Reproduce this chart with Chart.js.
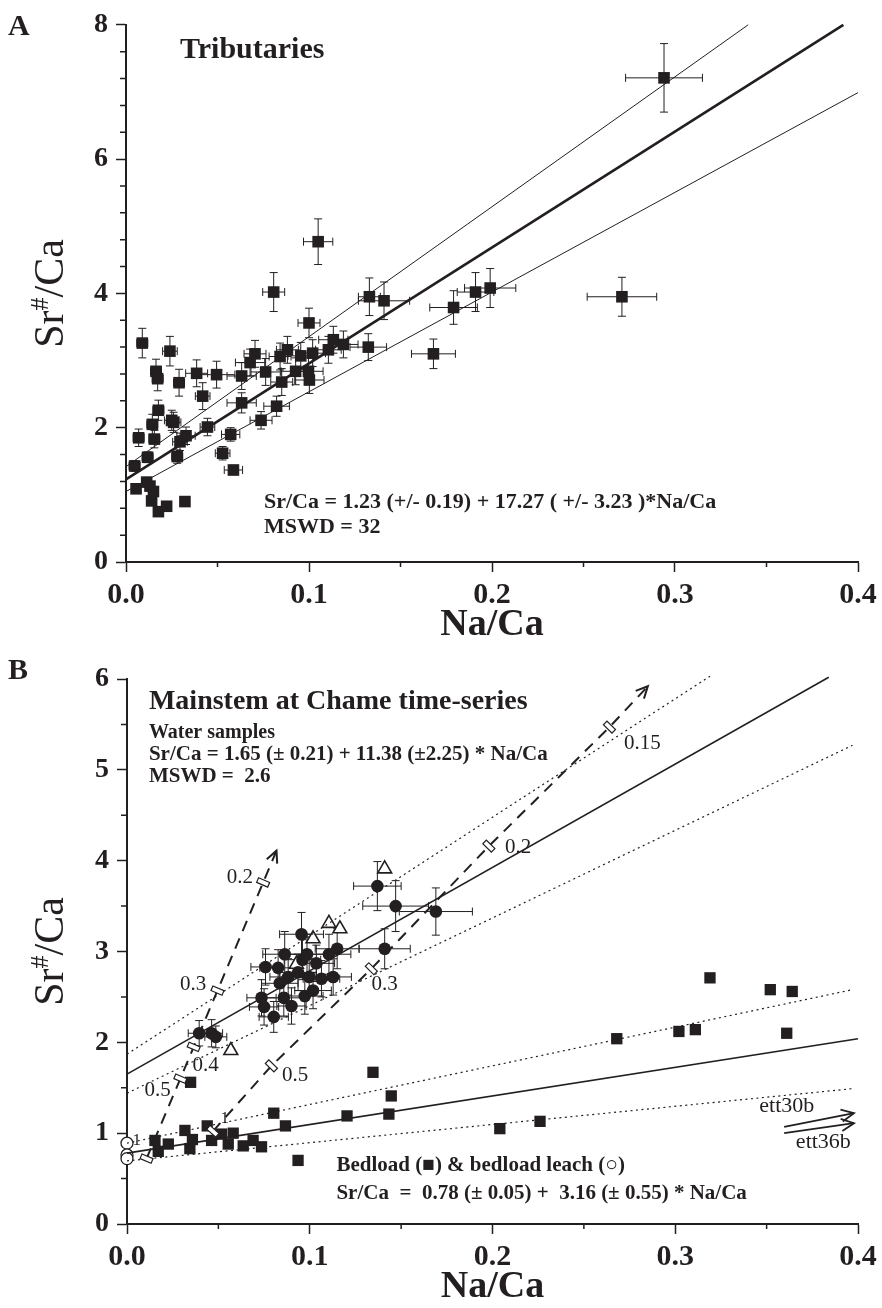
<!DOCTYPE html>
<html>
<head>
<meta charset="utf-8">
<script src="https://cdn.jsdelivr.net/npm/chart.js@4.4.1/dist/chart.umd.min.js"></script>
<style>
  html, body { margin: 0; padding: 0; background: #fff; }
  #wrap { position: relative; width: 882px; height: 1308px; }
  .panel { position: absolute; left: 0; width: 882px; }
  #boxA { top: 0; height: 650px; }
  #boxB { top: 650px; height: 658px; }
  .tag { position: absolute; left: 8px; font: bold 30px "Liberation Serif", serif; line-height: 30px; color: #231f20; }
</style>
</head>
<body>
<div id="wrap">
  <div class="panel" id="boxA"><canvas id="chartA"></canvas></div>
  <div class="panel" id="boxB"><canvas id="chartB"></canvas></div>
  <div class="tag" style="top:10px">A</div>
  <div class="tag" style="top:654px">B</div>
</div>
<script>
// ---- Panel A: tributaries (Na/Ca vs Sr/Ca, with 2-sigma bars) ----
const tribX = [0.0089, 0.024, 0.0164, 0.0173, 0.029, 0.0386, 0.0495, 0.0419, 0.0177, 0.0144, 0.025, 0.026, 0.0069, 0.0155, 0.0295, 0.0328, 0.0047, 0.0118, 0.028, 0.0445, 0.0632, 0.0678, 0.0705, 0.0763, 0.0632, 0.0572, 0.0528, 0.0587, 0.0738, 0.0823, 0.0851, 0.0842, 0.0882, 0.0927, 0.0955, 0.1, 0.0997, 0.1002, 0.102, 0.1106, 0.1133, 0.1188, 0.1324, 0.141, 0.133, 0.105, 0.0807, 0.168, 0.179, 0.191, 0.199, 0.271, 0.294];
const tribY = [3.26, 3.14, 2.84, 2.73, 2.67, 2.81, 2.79, 2.47, 2.26, 2.05, 2.11, 2.08, 1.85, 1.83, 1.79, 1.88, 1.43, 1.56, 1.57, 2.01, 2.37, 2.97, 3.10, 2.83, 2.77, 1.90, 1.62, 1.37, 2.11, 2.32, 2.68, 3.06, 3.16, 2.84, 3.07, 3.56, 2.84, 2.71, 3.11, 3.16, 3.31, 3.24, 3.20, 3.89, 3.95, 4.77, 4.02, 3.10, 3.79, 4.02, 4.08, 3.95, 7.21];
const tribXErr = [0.003, 0.004, 0.003, 0.003, 0.003, 0.006, 0.01, 0.004, 0.003, 0.003, 0.004, 0.004, 0.003, 0.003, 0.004, 0.005, 0.003, 0.003, 0.003, 0.004, 0.008, 0.008, 0.006, 0.008, 0.008, 0.005, 0.004, 0.005, 0.006, 0.007, 0.006, 0.006, 0.006, 0.008, 0.007, 0.006, 0.008, 0.008, 0.007, 0.007, 0.008, 0.008, 0.01, 0.014, 0.006, 0.008, 0.006, 0.012, 0.013, 0.010, 0.014, 0.019, 0.021];
const tribYErr = [0.22, 0.22, 0.18, 0.18, 0.2, 0.2, 0.2, 0.2, 0.15, 0.15, 0.15, 0.15, 0.13, 0.13, 0.13, 0.13, 0.08, 0.08, 0.1, 0.13, 0.15, 0.2, 0.2, 0.2, 0.2, 0.1, 0.1, 0.07, 0.13, 0.15, 0.2, 0.2, 0.2, 0.2, 0.2, 0.22, 0.2, 0.2, 0.2, 0.2, 0.2, 0.2, 0.2, 0.28, 0.28, 0.34, 0.29, 0.22, 0.25, 0.29, 0.29, 0.29, 0.51];
// low-Sr tributaries drawn without bars
const tribLowX = [0.0055, 0.0113, 0.0131, 0.014, 0.0177, 0.0222, 0.0322, 0.015];
const tribLowY = [1.09, 1.19, 1.13, 0.91, 0.75, 0.83, 0.90, 1.05];
// regression and its envelope
const tribFitX = [0, 0.392];
const tribFitY = [1.23, 8.0];
const tribUpX = [0, 0.34];
const tribUpY = [1.42, 8.0];
const tribLoX = [0, 0.4];
const tribLoY = [1.05, 6.99];

// ---- Panel B: mainstem at Chame ----
const waterX = [0.0395, 0.0463, 0.0486, 0.0758, 0.0736, 0.075, 0.0803, 0.0827, 0.0863, 0.0836, 0.0858, 0.0882, 0.09, 0.0955, 0.0936, 0.096, 0.0985, 0.0973, 0.0997, 0.1018, 0.1036, 0.1064, 0.1105, 0.1128, 0.115, 0.137, 0.147, 0.141, 0.169];
const waterY = [2.10, 2.10, 2.06, 2.83, 2.49, 2.39, 2.28, 2.82, 2.97, 2.65, 2.49, 2.72, 2.40, 3.19, 2.77, 2.91, 2.97, 2.51, 2.72, 2.57, 2.87, 2.70, 2.97, 2.72, 3.03, 3.72, 3.50, 3.03, 3.44];
const waterXErr = [0.006, 0.006, 0.006, 0.008, 0.008, 0.008, 0.008, 0.01, 0.012, 0.01, 0.01, 0.01, 0.008, 0.012, 0.01, 0.01, 0.01, 0.01, 0.01, 0.01, 0.01, 0.01, 0.012, 0.01, 0.012, 0.013, 0.018, 0.014, 0.02];
const waterYErr = [0.14, 0.15, 0.12, 0.2, 0.2, 0.2, 0.17, 0.2, 0.25, 0.2, 0.2, 0.2, 0.2, 0.24, 0.2, 0.22, 0.22, 0.2, 0.2, 0.2, 0.2, 0.2, 0.22, 0.2, 0.22, 0.27, 0.28, 0.22, 0.26];
const triX = [0.141, 0.1105, 0.1165, 0.1018, 0.0927, 0.0568];
const triY = [3.91, 3.31, 3.25, 3.14, 2.86, 1.91];
const bedX = [0.0348, 0.1346, 0.1446, 0.0803, 0.0867, 0.1204, 0.1433, 0.0936, 0.0153, 0.0226, 0.0171, 0.0317, 0.0344, 0.0358, 0.0439, 0.0463, 0.0517, 0.0581, 0.0554, 0.0636, 0.069, 0.0736, 0.204, 0.226, 0.268, 0.302, 0.311, 0.319, 0.352, 0.364, 0.361];
const bedY = [1.56, 1.67, 1.41, 1.22, 1.08, 1.19, 1.21, 0.70, 0.92, 0.88, 0.80, 1.03, 0.83, 0.93, 1.08, 0.92, 0.99, 1.00, 0.88, 0.86, 0.92, 0.85, 1.05, 1.13, 2.04, 2.12, 2.14, 2.71, 2.58, 2.56, 2.10];
const leachX = [0, 0, 0];
const leachY = [0.89, 0.76, 0.72];
const waterFitX = [0, 0.384];
const waterFitY = [1.65, 6.02];
const waterUpX = [0, 0.319];
const waterUpY = [1.87, 6.03];
const waterLoX = [0, 0.397];
const waterLoY = [1.44, 5.27];
const bedFitX = [0, 0.4];
const bedFitY = [0.78, 2.04];
const bedUpX = [0, 0.397];
const bedUpY = [0.89, 2.58];
const bedLoX = [0, 0.397];
const bedLoY = [0.695, 1.49];
// mixing curves, marked at fractions 1, 0.5, 0.4, 0.3, 0.2 ...
const mixAX = [0.0107, 0.0292, 0.0365, 0.0495, 0.0745, 0.0818];
const mixAY = [0.72, 1.60, 1.95, 2.57, 3.76, 4.11];
const mixALabels = ['1', '0.5', '0.4', '0.3', '0.2'];
const mixBX = [0.047, 0.079, 0.1337, 0.198, 0.264, 0.285];
const mixBY = [1.02, 1.74, 2.81, 4.16, 5.47, 5.92];
const mixBLabels = ['1', '0.5', '0.3', '0.2', '0.15'];
// bedload leach trajectories
const ett30X = [0.3596, 0.3978];
const ett30Y = [1.07, 1.22];
const ett36X = [0.3596, 0.3978];
const ett36Y = [1.00, 1.11];

const INK = '#231f20';
const FAMILY = '"Liberation Serif", "Times New Roman", serif';
const pts = (xs, ys) => xs.map((x, i) => ({ x, y: ys[i] }));

// error bars drawn from the scales, under the markers
const errorBars = {
    id: 'errorBars',
    beforeDatasetsDraw(chart) {
        const { ctx, scales: { x, y } } = chart;
        ctx.save();
        ctx.strokeStyle = INK;
        ctx.lineWidth = 1;
        chart.data.datasets.forEach(ds => {
            if (!ds.errX) return;
            ds.data.forEach((p, i) => {
                const px = x.getPixelForValue(p.x), py = y.getPixelForValue(p.y);
                const ex = ds.errX[i], ey = ds.errY[i];
                const cap = 4;
                ctx.beginPath();
                if (ex) {
                    const l = x.getPixelForValue(p.x - ex), r = x.getPixelForValue(p.x + ex);
                    ctx.moveTo(l, py); ctx.lineTo(r, py);
                    ctx.moveTo(l, py - cap); ctx.lineTo(l, py + cap);
                    ctx.moveTo(r, py - cap); ctx.lineTo(r, py + cap);
                }
                if (ey) {
                    const t = y.getPixelForValue(p.y + ey), b = y.getPixelForValue(p.y - ey);
                    ctx.moveTo(px, t); ctx.lineTo(px, b);
                    ctx.moveTo(px - cap, t); ctx.lineTo(px + cap, t);
                    ctx.moveTo(px - cap, b); ctx.lineTo(px + cap, b);
                }
                ctx.stroke();
            });
        });
        ctx.restore();
    }
};

// fraction markers across mixing lines + open arrow heads
const lineDecor = {
    id: 'lineDecor',
    afterDatasetsDraw(chart) {
        const { ctx, scales: { x, y } } = chart;
        chart.data.datasets.forEach(ds => {
            if (!ds.markAt && !ds.arrowEnd) return;
            const p = ds.data.map(d => [x.getPixelForValue(d.x), y.getPixelForValue(d.y)]);
            ctx.save();
            ctx.strokeStyle = INK;
            (ds.markAt || []).forEach(i => {
                const a = p[Math.max(i - 1, 0)], b = p[Math.min(i + 1, p.length - 1)];
                const ang = Math.atan2(b[1] - a[1], b[0] - a[0]);
                ctx.save();
                ctx.translate(p[i][0], p[i][1]);
                ctx.rotate(ang);
                ctx.fillStyle = '#fff';
                ctx.lineWidth = 1.2;
                ctx.fillRect(-2.5, -6, 5, 12);
                ctx.strokeRect(-2.5, -6, 5, 12);
                ctx.restore();
            });
            if (ds.arrowEnd) {
                const a = p[p.length - 2], b = p[p.length - 1];
                const ang = Math.atan2(b[1] - a[1], b[0] - a[0]);
                const len = ds.arrowLen || 13;
                ctx.lineWidth = ds.borderWidth || 1.5;
                ctx.beginPath();
                ctx.moveTo(b[0] - len * Math.cos(ang - 0.45), b[1] - len * Math.sin(ang - 0.45));
                ctx.lineTo(b[0], b[1]);
                ctx.lineTo(b[0] - len * Math.cos(ang + 0.45), b[1] - len * Math.sin(ang + 0.45));
                ctx.stroke();
            }
            ctx.restore();
        });
    }
};

// minor tick marks outside the axes
const minorTicks = {
    id: 'minorTicks',
    afterDraw(chart, args, o) {
        const { ctx, chartArea: ca, scales: { x, y } } = chart;
        ctx.save();
        ctx.strokeStyle = INK;
        ctx.lineWidth = 1.5;
        ctx.beginPath();
        for (let k = 1; k * o.xStep < x.max - 1e-9; k++) {
            if (k % o.xEvery === 0) continue;
            const px = x.getPixelForValue(k * o.xStep);
            ctx.moveTo(px, ca.bottom); ctx.lineTo(px, ca.bottom + 5);
        }
        for (let k = 1; k * o.yStep < y.max - 1e-9; k++) {
            if (k % o.yEvery === 0) continue;
            const py = y.getPixelForValue(k * o.yStep);
            ctx.moveTo(ca.left, py); ctx.lineTo(ca.left - 6, py);
        }
        ctx.stroke();
        ctx.restore();
    }
};

// Sr#/Ca title with a superscript #
const yTitle = {
    id: 'yTitle',
    afterDraw(chart, args, o) {
        const { ctx, chartArea } = chart;
        const cy = (chartArea.top + chartArea.bottom) / 2;
        ctx.save();
        ctx.translate(o.x, cy);
        ctx.rotate(-Math.PI / 2);
        ctx.fillStyle = INK;
        ctx.textBaseline = 'middle';
        ctx.textAlign = 'left';
        const big = `42px ${FAMILY}`, small = `26px ${FAMILY}`;
        ctx.font = big;
        const w1 = ctx.measureText('Sr').width, w3 = ctx.measureText('/Ca').width;
        ctx.font = small;
        const w2 = ctx.measureText('#').width;
        let px = -(w1 + w2 + w3) / 2;
        ctx.font = big; ctx.fillText('Sr', px, 0); px += w1;
        ctx.font = small; ctx.fillText('#', px, -11); px += w2;
        ctx.font = big; ctx.fillText('/Ca', px, 0);
        ctx.restore();
    }
};

// text placed at data coordinates
const notes = {
    id: 'notes',
    afterDatasetsDraw(chart, args, o) {
        const { ctx, scales: { x, y } } = chart;
        ctx.save();
        ctx.fillStyle = INK;
        ctx.textBaseline = 'middle';
        (o.items || []).forEach(n => {
            ctx.font = n.font;
            ctx.textAlign = n.align || 'left';
            ctx.fillText(n.text, x.getPixelForValue(n.x), y.getPixelForValue(n.y));
        });
        ctx.restore();
    }
};

function scalesFor(yMax, yStep, yWidth, xHeight, titlePad) {
    return {
        x: {
            type: 'linear', min: 0, max: 0.4,
            ticks: { stepSize: 0.1, autoSkip: false, maxRotation: 0, padding: 5, color: INK,
                     font: { family: FAMILY, size: 30, weight: 'bold' },
                     callback: v => v.toFixed(1) },
            grid: { drawOnChartArea: false, drawTicks: true, tickLength: 10, tickWidth: 1.5, tickColor: INK },
            border: { display: true, color: INK, width: 2 },
            title: { display: true, text: 'Na/Ca', color: INK, padding: { top: 0, bottom: titlePad },
                     font: { family: FAMILY, size: 38, weight: 'bold', lineHeight: 1.1 } },
            afterFit: s => { s.height = xHeight; }
        },
        y: {
            type: 'linear', min: 0, max: yMax,
            ticks: { stepSize: yStep, autoSkip: false, padding: 8, color: INK,
                     font: { family: FAMILY, size: 28, weight: 'bold' } },
            grid: { drawOnChartArea: false, drawTicks: true, tickLength: 10, tickWidth: 1.5, tickColor: INK },
            border: { display: true, color: INK, width: 2 },
            afterFit: s => { s.width = yWidth; }
        }
    };
}

const lineDs = (xs, ys, width, dash) => ({
    data: pts(xs, ys), showLine: true, borderColor: INK, borderWidth: width,
    borderDash: dash || [], pointRadius: 0, fill: false, clip: false
});

const boldNote = size => `bold ${size}px ${FAMILY}`;
const plainNote = size => `${size}px ${FAMILY}`;

// ---- chart A ----
new Chart(document.getElementById('chartA'), {
    type: 'scatter',
    data: {
        datasets: [
            lineDs(tribUpX, tribUpY, 1),
            lineDs(tribLoX, tribLoY, 1),
            lineDs(tribFitX, tribFitY, 2.6),
            { data: pts(tribX, tribY), errX: tribXErr, errY: tribYErr, pointStyle: 'rect', pointRadius: 8.2,
              backgroundColor: INK, borderColor: INK, borderWidth: 0, clip: false },
            { data: pts(tribLowX, tribLowY), pointStyle: 'rect', pointRadius: 8.2,
              backgroundColor: INK, borderColor: INK, borderWidth: 0, clip: false }
        ]
    },
    options: {
        responsive: true, maintainAspectRatio: false, animation: false, events: [],
        layout: { padding: { top: 17, right: 24, left: 0, bottom: 0 } },
        scales: scalesFor(8, 2, 126, 88, 4),
        plugins: {
            legend: { display: false }, tooltip: { enabled: false },
            minorTicks: { xStep: 0.05, xEvery: 2, yStep: 0.4, yEvery: 5 },
            yTitle: { x: 52 },
            notes: { items: [
                { text: 'Tributaries', x: 0.0295, y: 7.62, font: boldNote(30) },
                { text: 'Sr/Ca = 1.23 (+/- 0.19) + 17.27 ( +/- 3.23 )*Na/Ca', x: 0.0754, y: 0.886, font: boldNote(22) },
                { text: 'MSWD = 32', x: 0.0754, y: 0.52, font: boldNote(22) }
            ] }
        }
    },
    plugins: [errorBars, lineDecor, minorTicks, yTitle, notes]
});

// ---- chart B ----
const mixANotes = [[0.0053, 0.92], [0.0167, 1.47], [0.043, 1.75], [0.0362, 2.64], [0.0617, 3.81]];
const mixBNotes = [[0.0535, 1.16], [0.092, 1.64], [0.141, 2.64], [0.214, 4.15], [0.282, 5.29]];
const fracNotes = mixALabels.map((t, i) => ({ text: t, x: mixANotes[i][0], y: mixANotes[i][1], font: plainNote(i === 0 ? 17 : 21), align: 'center' }))
    .concat(mixBLabels.map((t, i) => ({ text: t, x: mixBNotes[i][0], y: mixBNotes[i][1], font: plainNote(i === 0 ? 17 : 21), align: 'center' })));

new Chart(document.getElementById('chartB'), {
    type: 'scatter',
    data: {
        datasets: [
            lineDs(waterUpX, waterUpY, 1.2, [2, 3.5]),
            lineDs(waterLoX, waterLoY, 1.2, [2, 3.5]),
            lineDs(waterFitX, waterFitY, 1.6),
            lineDs(bedUpX, bedUpY, 1.2, [2, 3.5]),
            lineDs(bedLoX, bedLoY, 1.2, [2, 3.5]),
            lineDs(bedFitX, bedFitY, 1.6),
            Object.assign(lineDs(mixAX, mixAY, 2, [11, 8]), { markAt: [0, 1, 2, 3, 4], arrowEnd: true }),
            Object.assign(lineDs(mixBX, mixBY, 2, [11, 8]), { markAt: [0, 1, 2, 3, 4], arrowEnd: true }),
            Object.assign(lineDs(ett30X, ett30Y, 1.8), { arrowEnd: true, arrowLen: 14 }),
            Object.assign(lineDs(ett36X, ett36Y, 1.8), { arrowEnd: true, arrowLen: 14 }),
            { data: pts(bedX, bedY), pointStyle: 'rect', pointRadius: 8,
              backgroundColor: INK, borderColor: INK, borderWidth: 0, clip: false },
            { data: pts(leachX, leachY), pointStyle: 'circle', pointRadius: 6,
              backgroundColor: '#fff', borderColor: INK, borderWidth: 1.3, clip: false },
            { data: pts(waterX, waterY), errX: waterXErr, errY: waterYErr, pointStyle: 'circle', pointRadius: 6.3,
              backgroundColor: INK, borderColor: INK, borderWidth: 0, clip: false },
            { data: pts(triX, triY), pointStyle: 'triangle', pointRadius: 8,
              backgroundColor: '#fff', borderColor: INK, borderWidth: 1.6, clip: false }
        ]
    },
    options: {
        responsive: true, maintainAspectRatio: false, animation: false, events: [],
        layout: { padding: { top: 29, right: 24, left: 0, bottom: 0 } },
        scales: scalesFor(6, 1, 127, 84, 0),
        plugins: {
            legend: { display: false }, tooltip: { enabled: false },
            minorTicks: { xStep: 0.05, xEvery: 2, yStep: 0.5, yEvery: 2 },
            yTitle: { x: 52 },
            notes: { items: [
                { text: 'Mainstem at Chame time-series', x: 0.012, y: 5.75, font: boldNote(28) },
                { text: 'Water samples', x: 0.012, y: 5.41, font: boldNote(20) },
                { text: 'Sr/Ca = 1.65 (\u00b1 0.21) + 11.38 (\u00b12.25) * Na/Ca', x: 0.012, y: 5.17, font: boldNote(21) },
                { text: 'MSWD =  2.6', x: 0.012, y: 4.93, font: boldNote(21) },
                { text: 'Bedload (\u25a0) & bedload leach (\u25cb)', x: 0.1146, y: 0.64, font: boldNote(21) },
                { text: 'Sr/Ca  =  0.78 (\u00b1 0.05) +  3.16 (\u00b1 0.55) * Na/Ca', x: 0.1146, y: 0.34, font: boldNote(21) },
                { text: 'ett30b', x: 0.346, y: 1.30, font: plainNote(22) },
                { text: 'ett36b', x: 0.366, y: 0.90, font: plainNote(22) }
            ].concat(fracNotes) }
        }
    },
    plugins: [errorBars, lineDecor, minorTicks, yTitle, notes]
});
</script>
</body>
</html>
